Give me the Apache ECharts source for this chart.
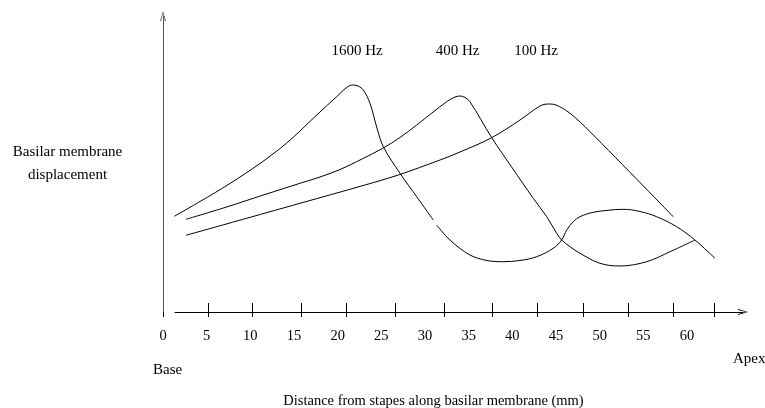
<!DOCTYPE html>
<html><head><meta charset="utf-8">
<script src="https://cdn.jsdelivr.net/npm/echarts@6/dist/echarts.min.js"></script>
<style>html,body{margin:0;padding:0;background:#fff}#c{width:765px;height:408px}</style>
</head><body><div id="c"></div>
<script>
// ---- data (distance in mm, displacement in arbitrary units 0-100) ----
const tickLabels = [0, 5, 10, 15, 20, 25, 30, 35, 40, 45, 50, 55, 60];
const tickMarks = [0, 5.19, 10.27, 15.88, 21.04, 26.65, 32.21, 37.75, 42.91, 48.13, 53.28, 58.43, 63.13];
const curveNames = ['1600 Hz', '400 Hz', '100 Hz'];

const curve1600a = [
  [1.29, 32.33], [4.24, 37.33], [7.67, 43.41], [11.11, 50.17], [13.40, 55.24], [14.89, 58.95],
  [17.60, 66.55], [19.89, 72.74], [20.96, 75.68], [21.68, 76.69], [22.33, 76.35], [22.94, 75.0],
  [23.70, 70.51], [24.47, 62.5], [25.23, 55.84], [27.14, 46.86], [29.05, 38.95], [30.95, 31.08]
];
const curve1600b = [
  [31.34, 29.39], [32.86, 24.32], [35.15, 19.26], [37.10, 17.40], [38.97, 16.99], [40.88, 17.40],
  [42.79, 18.68], [44.69, 21.52], [45.65, 24.32], [46.23, 27.70], [46.98, 30.51], [47.75, 32.20],
  [49.27, 33.68], [50.96, 34.36], [52.71, 34.70], [54.62, 33.95], [56.53, 32.20], [58.82, 28.82],
  [60.92, 24.32], [63.21, 18.14]
];
const curve400 = [
  [2.63, 31.32], [7.10, 35.30], [11.68, 39.70], [15.69, 43.48], [17.98, 45.61], [20.27, 48.14],
  [22.79, 51.69], [25.16, 55.30], [27.14, 58.95], [29.05, 63.18], [30.80, 67.23], [32.49, 71.05],
  [33.44, 72.64], [34.01, 72.97], [34.58, 72.47], [35.15, 71.05],
  [37.64, 58.89], [39.96, 48.82], [42.40, 38.41], [43.94, 32.20], [45.08, 26.59], [45.65, 24.32],
  [46.61, 22.06], [47.75, 19.83], [50.04, 16.45], [52.33, 15.54], [55.39, 16.99], [58.06, 20.37],
  [60.92, 24.32]
];
const curve100 = [
  [2.63, 25.91], [15.69, 36.72], [23.13, 42.91], [26.94, 46.28], [31.72, 51.35], [34.01, 54.05],
  [37.64, 58.89], [40.88, 64.86], [43.17, 69.59], [44.12, 70.27], [45.00, 69.93], [46.61, 67.13],
  [48.90, 60.91], [58.43, 32.20]
];

const FONT = 'Liberation Serif';
const chevron = 'path://M3,0 L6,10 L5,10 L3,2.2 L1,10 L0,10 Z';

const lineSeries = (data) => ({
  type: 'line', data: data, xAxisIndex: 0, yAxisIndex: 0,
  showSymbol: false, smooth: 0.35, silent: true,
  lineStyle: { color: '#000', width: 1 }
});

const chart = echarts.init(document.getElementById('c'));
chart.setOption({
  animation: false,
  backgroundColor: '#fff',
  grid: [
    { left: 163, top: 16, width: 585, height: 296, outerBoundsMode: 'none', containLabel: false },
    { left: 175, top: 302, width: 568, height: 10, outerBoundsMode: 'none', containLabel: false }
  ],
  xAxis: [
    {
      gridIndex: 0, type: 'value', min: 0, max: 66.99, interval: 5, position: 'bottom',
      axisLine: { show: false }, axisTick: { show: false }, splitLine: { show: false },
      axisLabel: {
        customValues: tickLabels, margin: 17,
        formatter: v => (v > 60 ? '' : String(v)),
        fontFamily: FONT, fontSize: 14.5, color: '#000'
      },
      name: 'Distance from stapes along basilar membrane (mm)',
      nameLocation: 'middle', nameGap: 82,
      nameTextStyle: { fontFamily: FONT, fontSize: 14.5, color: '#000', padding: [0, 44, 0, 0] }
    },
    {
      gridIndex: 0, type: 'value', min: 0, max: 66.99, position: 'bottom',
      axisLine: { show: false, onZero: false }, axisLabel: { show: false }, splitLine: { show: false },
      axisTick: { show: true, inside: true, length: 9, customValues: tickMarks.slice(1),
        lineStyle: { color: '#000', width: 1 } }
    },
    {
      gridIndex: 0, type: 'value', min: 0, max: 66.99, position: 'bottom',
      axisLine: { show: false, onZero: false }, axisLabel: { show: false }, splitLine: { show: false },
      axisTick: { show: true, inside: false, length: 5, customValues: tickMarks,
        lineStyle: { color: '#000', width: 1 } }
    },
    {
      gridIndex: 1, type: 'value', min: 0, max: 1, position: 'bottom',
      axisLine: { show: true, onZero: false, symbol: ['none', chevron], symbolSize: [6, 10],
        lineStyle: { color: '#000', width: 1 } },
      axisTick: { show: false }, axisLabel: { show: false }, splitLine: { show: false }
    }
  ],
  yAxis: [
    {
      gridIndex: 0, type: 'value', min: 0, max: 100,
      axisLine: { show: true, onZero: false, symbol: ['none', chevron], symbolSize: [6, 10],
        lineStyle: { color: '#555', width: 1 } },
      axisTick: { show: false }, axisLabel: { show: false }, splitLine: { show: false },
      name: 'Basilar membrane\ndisplacement', nameLocation: 'middle', nameRotate: 0, nameGap: 95.5,
      nameTextStyle: { fontFamily: FONT, fontSize: 15, color: '#000', align: 'center', lineHeight: 23 }
    },
    {
      gridIndex: 1, type: 'value', min: 0, max: 1, show: false
    }
  ],
  graphic: [
    { type: 'text', x: 357, y: 51, style: { text: curveNames[0], font: '15px "Liberation Serif"', fill: '#000', textAlign: 'center', textVerticalAlign: 'middle' } },
    { type: 'text', x: 457.5, y: 51, style: { text: curveNames[1], font: '15px "Liberation Serif"', fill: '#000', textAlign: 'center', textVerticalAlign: 'middle' } },
    { type: 'text', x: 536, y: 51, style: { text: curveNames[2], font: '15px "Liberation Serif"', fill: '#000', textAlign: 'center', textVerticalAlign: 'middle' } },
    { type: 'text', x: 153, y: 370, style: { text: 'Base', font: '15px "Liberation Serif"', fill: '#000', textAlign: 'left', textVerticalAlign: 'middle' } },
    { type: 'text', x: 733, y: 359, style: { text: 'Apex', font: '15px "Liberation Serif"', fill: '#000', textAlign: 'left', textVerticalAlign: 'middle' } }
  ],
  series: [
    lineSeries(curve1600a),
    lineSeries(curve1600b),
    lineSeries(curve400),
    lineSeries(curve100)
  ]
});
</script>
</body></html>
